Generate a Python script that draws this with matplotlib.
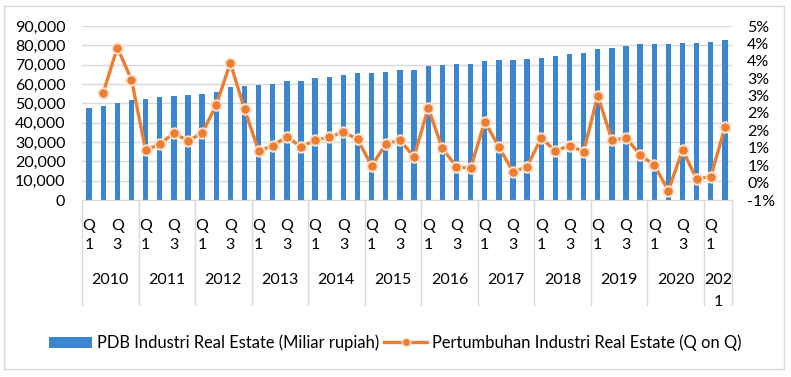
import matplotlib

matplotlib.use("Agg")
import matplotlib.pyplot as plt
import matplotlib.transforms as mtransforms
import numpy as np
from matplotlib.lines import Line2D
from matplotlib.patches import Patch, Rectangle

years = ["2010", "2011", "2012", "2013", "2014", "2015", "2016", "2017", "2018", "2019", "2020", "2021"]
quarters_per_year = [4, 4, 4, 4, 4, 4, 4, 4, 4, 4, 4, 2]
# Excel wraps the last (narrow) year label onto two lines
year_labels = ["2010", "2011", "2012", "2013", "2014", "2015", "2016", "2017", "2018", "2019", "2020", "202\n1"]

# PDB Industri Real Estate (Miliar rupiah), per quarter
pdb = [
    47400, 48500, 50400, 51900,
    52400, 53100, 53700, 54200,
    55000, 56100, 58300, 59200,
    59700, 60200, 61300, 61800,
    63000, 63500, 64400, 65600,
    65600, 66100, 67000, 67500,
    69100, 69600, 70100, 70100,
    71700, 72200, 72200, 72700,
    73700, 74300, 75300, 75800,
    77900, 78400, 79400, 80500,
    80500, 80500, 81000, 81000,
    81500, 82600,
]

# Pertumbuhan (Q on Q), percent
growth = [
    np.nan, 2.58, 3.88, 2.96,
    0.94, 1.10, 1.42, 1.20,
    1.42, 2.23, 3.44, 2.11,
    0.91, 1.06, 1.32, 1.03,
    1.22, 1.30, 1.46, 1.24,
    0.48, 1.11, 1.22, 0.74,
    2.15, 0.98, 0.46, 0.41,
    1.75, 1.03, 0.31, 0.46,
    1.28, 0.91, 1.06, 0.89,
    2.50, 1.22, 1.28, 0.80,
    0.50, -0.23, 0.94, 0.10,
    0.17, 1.59,
]

left_ticks = [0, 10000, 20000, 30000, 40000, 50000, 60000, 70000, 80000, 90000]
right_ticks = [-0.5, 0.0, 0.5, 1.0, 1.5, 2.0, 2.5, 3.0, 3.5, 4.0, 4.5]
right_tick_labels = ["-1%", "0%", "1%", "1%", "2%", "2%", "3%", "3%", "4%", "4%", "5%"]

bar_label = "PDB Industri Real Estate (Miliar rupiah)"
line_label = "Pertumbuhan Industri Real Estate (Q on Q)"

BAR_COLOR = "#3A86D0"
LINE_COLOR = "#ED7D31"
GRID_COLOR = "#D9D9D9"
TEXT_COLOR = "#000000"

plt.rcParams["font.family"] = ["Lato", "DejaVu Sans"]
plt.rcParams["font.size"] = 11.5

W, H = 791, 377
fig = plt.figure(figsize=(W / 100, H / 100), dpi=100)
fig.patches.append(
    Rectangle((4 / W, 1 - 369 / H), 780 / W, 363 / H, transform=fig.transFigure,
              facecolor="white", edgecolor=GRID_COLOR, linewidth=1.0, zorder=-10)
)

left, right, top, bottom = 82, 732, 26, 200
ax = fig.add_axes([left / W, 1 - bottom / H, (right - left) / W, (bottom - top) / H])
ax2 = ax.twinx()

n = len(pdb)
x = np.arange(n)
ax.bar(x, pdb, width=0.38, color=BAR_COLOR, zorder=2)
ax.set_xlim(-0.5, n - 0.5)
ax.set_ylim(0, 90000)
ax.set_yticks(left_ticks)
ax.set_yticklabels([f"{v:,}" for v in left_ticks])
ax.set_axisbelow(True)
ax.yaxis.grid(True, color=GRID_COLOR, linewidth=1.0)
for side in ("top", "right", "left"):
    ax.spines[side].set_visible(False)
ax.spines["bottom"].set_color(GRID_COLOR)
ax.tick_params(axis="y", length=0, pad=12, labelsize=11.5)

# quarter labels: Excel shows every other one, wrapped
quarter_labels = []
for count in quarters_per_year:
    for q in range(count):
        quarter_labels.append(f"Q\n{q + 1}" if q % 2 == 0 else "")
ax.set_xticks(x)
ax.set_xticklabels(quarter_labels, linespacing=1.45)
ax.tick_params(axis="x", length=0, pad=14, labelsize=11.5)

ax2.plot(x, growth, color=LINE_COLOR, linewidth=2.4, marker="o", markersize=7.5,
         markerfacecolor=LINE_COLOR, markeredgecolor="#FBE3D2", markeredgewidth=1.4,
         zorder=3)
ax2.set_ylim(-0.5, 4.5)
ax2.set_yticks(right_ticks)
ax2.set_yticklabels(right_tick_labels)
ax2.tick_params(axis="y", length=0, pad=11, labelsize=11.5)
for side in ("top", "right", "left", "bottom"):
    ax2.spines[side].set_visible(False)

# year group labels and separators below the axis
trans = mtransforms.blended_transform_factory(ax.transData, fig.transFigure)
start = 0
bounds = [start]
for label, count in zip(year_labels, quarters_per_year):
    center = start + count / 2 - 0.5
    for k, part in enumerate(label.split("\n")):
        ax.text(center, 1 - (280 + 22 * k) / H, part, transform=trans, ha="center", va="center",
                fontsize=11.5, color=TEXT_COLOR)
    start += count
    bounds.append(start)
for b in bounds:
    ax.add_line(Line2D([b - 0.5, b - 0.5], [1 - 200 / H, 1 - 305 / H], transform=trans,
                       color=GRID_COLOR, linewidth=1.0, clip_on=False))

handles = [
    Patch(facecolor=BAR_COLOR, edgecolor="none"),
    Line2D([], [], color=LINE_COLOR, linewidth=2.4, marker="o", markersize=6,
           markerfacecolor=LINE_COLOR, markeredgecolor="#FBE3D2", markeredgewidth=1.0),
]
fig.legend(handles, [bar_label, line_label], loc="center", bbox_to_anchor=(0.5, 1 - 343 / H),
           ncol=2, frameon=False, fontsize=11.9, handlelength=2.6, handletextpad=0.3,
           columnspacing=0.3, borderaxespad=0)

fig.savefig("out.png", dpi=100)
